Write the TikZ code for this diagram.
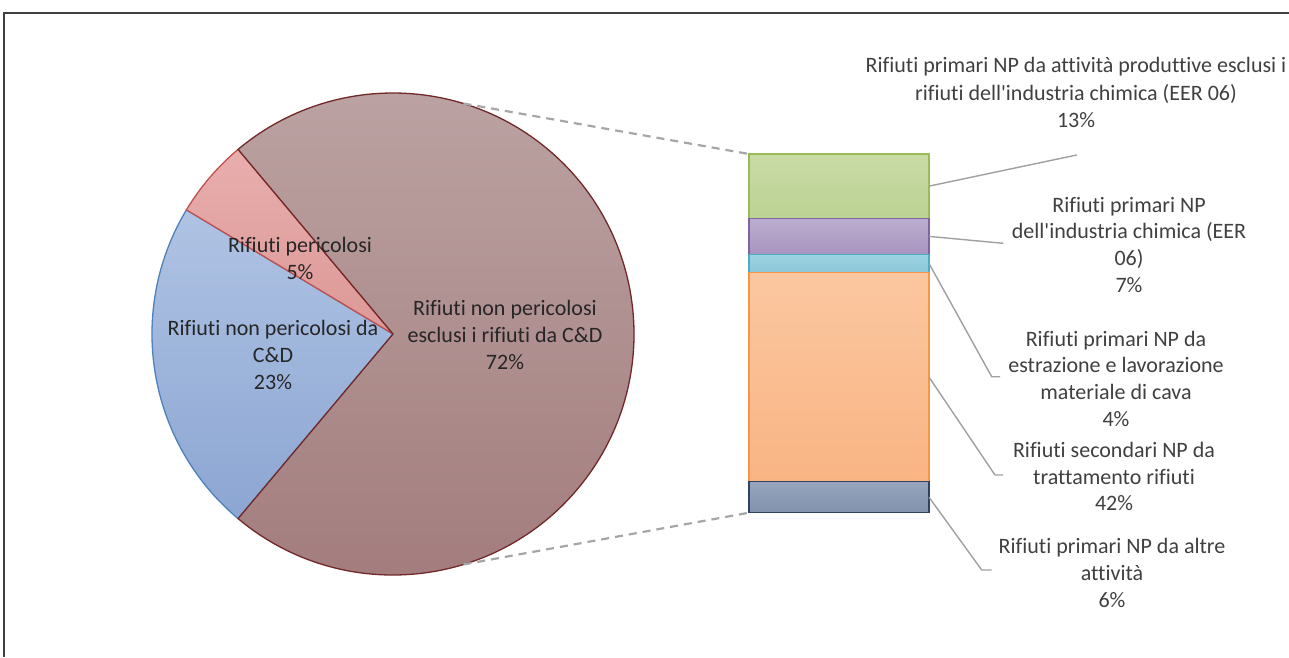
\documentclass[tikz,border=0pt]{standalone}
\usepackage{fontspec}
\usetikzlibrary{calc}
\setmainfont{Carlito}[Ligatures={TeXOff,NoCommon}]
\definecolor{txtgray}{HTML}{404040}
\definecolor{pietxt}{HTML}{262626}
\definecolor{framegray}{HTML}{404040}
\definecolor{leadgray}{HTML}{A0A0A0}
\definecolor{dashgray}{HTML}{A6A6A6}
\definecolor{bigtop}{HTML}{BCA3A3}
\definecolor{bigbot}{HTML}{A27B7B}
\definecolor{bigedge}{HTML}{722828}
\definecolor{pertop}{HTML}{E8AEAD}
\definecolor{perbot}{HTML}{DC9896}
\definecolor{peredge}{HTML}{C0504D}
\definecolor{bluetop}{HTML}{AFC3E3}
\definecolor{bluebot}{HTML}{8CA6D3}
\definecolor{blueedge}{HTML}{4F81BD}
\definecolor{gtop}{HTML}{C8DBA6}
\definecolor{gbot}{HTML}{BCD293}
\definecolor{gedge}{HTML}{9BBB59}
\definecolor{ptop}{HTML}{BBADCF}
\definecolor{pbot}{HTML}{A895BF}
\definecolor{pedge}{HTML}{8064A2}
\definecolor{ctop}{HTML}{9DD2E0}
\definecolor{cbot}{HTML}{8CC8D9}
\definecolor{cedge}{HTML}{4BACC6}
\definecolor{otop}{HTML}{FBC7A0}
\definecolor{obot}{HTML}{F9B483}
\definecolor{oedge}{HTML}{F79646}
\definecolor{dtop}{HTML}{97A6BE}
\definecolor{dbot}{HTML}{8191AC}
\definecolor{dedge}{HTML}{2E4265}
\begin{document}
\begin{tikzpicture}[x=1pt,y=1pt,
  lbl/.style={font=\fontsize{22}{26.7}\selectfont, text=txtgray, align=center, inner sep=0pt},
  toplbl/.style={lbl, font=\fontsize{22}{27.5}\selectfont},
  pielbl/.style={font=\fontsize{22}{26.7}\selectfont, text=pietxt, align=center, inner sep=0pt},
  seg/.style={rectangle, minimum width=180pt, inner sep=0pt, outer sep=0pt, line width=1.3pt},
  leader/.style={draw=leadgray, line width=1.4pt},
  zoomline/.style={draw=dashgray, line width=2.2pt, dash pattern=on 8pt off 6pt}]
\useasboundingbox (0,0) rectangle (1289,657);
\fill[white] (0,0) rectangle (1289,657);
\draw[framegray, line width=1.5pt] (4,0) -- (4,644) -- (1289,644);

% pie
\coordinate (c) at (393,323);
\shadedraw[top color=bluetop, bottom color=bluebot, draw=blueedge, line width=1.3pt]
  (c) -- ++(149:241pt) arc[start angle=149, end angle=230, radius=241pt] -- cycle;
\shadedraw[top color=pertop, bottom color=perbot, draw=peredge, line width=1.3pt]
  (c) -- ++(130:241pt) arc[start angle=130, end angle=149, radius=241pt] -- cycle;
\shadedraw[top color=bigtop, bottom color=bigbot, draw=bigedge, line width=1.3pt]
  (c) -- ++(-130:241pt) arc[start angle=-130, end angle=130, radius=241pt] -- cycle;
\coordinate (pt) at ($(c)+(73:241pt)$);
\coordinate (pb) at ($(c)+(-73:241pt)$);

\node[pielbl] (lp) at (300,398.7) {Rifiuti pericolosi\\5\%};
\node[pielbl] (lb) at (273,302) {Rifiuti non pericolosi da\\C\&D\\23\%};
\node[pielbl] (lbig) at (505,322) {Rifiuti non pericolosi\\esclusi i rifiuti da C\&D\\72\%};

% bar
\node[seg, minimum height=64.3pt, top color=gtop, bottom color=gbot, draw=gedge] (g) at (839,470.85) {};
\node[seg, minimum height=36.2pt, top color=ptop, bottom color=pbot, draw=pedge] (p) at (839,420.6) {};
\node[seg, minimum height=18pt, top color=ctop, bottom color=cbot, draw=cedge] (cy) at (839,393.5) {};
\node[seg, minimum height=209.2pt, top color=otop, bottom color=obot, draw=oedge] (o) at (839,279.9) {};
\node[seg, minimum height=31pt, top color=dtop, bottom color=dbot, draw=dedge] (d) at (839,159.8) {};

% zoom lines
\draw[zoomline] (pt) -- (g.north west);
\draw[zoomline] (pb) -- (d.south west);

% labels
\node[toplbl] (l1) at (1076,564.5) {Rifiuti primari NP da attività produttive esclusi i\\rifiuti dell'industria chimica (EER 06)\\13\%};
\node[lbl] (l2) at (1129,412.4) {Rifiuti primari NP\\dell'industria chimica (EER\\06)\\7\%};
\node[lbl] (l3) at (1116,278.3) {Rifiuti primari NP da\\estrazione e lavorazione\\materiale di cava\\4\%};
\node[lbl] (l4) at (1114,180.3) {Rifiuti secondari NP da\\trattamento rifiuti\\42\%};
\node[lbl] (l5) at (1112,84.2) {Rifiuti primari NP da altre\\attività\\6\%};

% leaders
\coordinate (e1) at (1076.7,502);
\coordinate (e2) at (1003.3,413.7);
\coordinate (e3a) at (991.7,280.3);
\coordinate (e3b) at (1000,280.3);
\coordinate (e4a) at (995,182);
\coordinate (e4b) at (1003,182);
\coordinate (e5a) at (981.7,87);
\coordinate (e5b) at (991.7,87);
\draw[leader] (g.east) -- (e1);
\draw[leader] (p.east) -- (e2);
\draw[leader] (cy.east) -- (e3a) -- (e3b);
\draw[leader] (o.east) -- (e4a) -- (e4b);
\draw[leader] (d.east) -- (e5a) -- (e5b);
\end{tikzpicture}
\end{document}
